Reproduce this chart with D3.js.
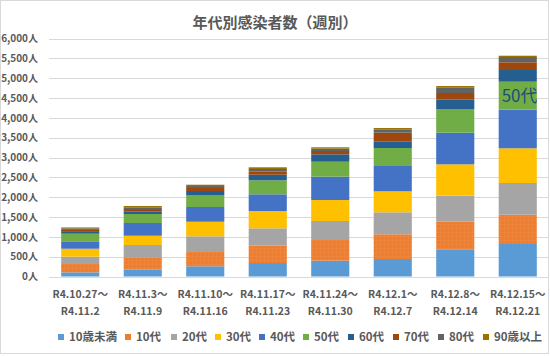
<!DOCTYPE html>
<html><head><meta charset="utf-8">
<script src="https://cdn.jsdelivr.net/npm/d3@7"></script>
<style>
html,body{margin:0;padding:0;background:#fff;}
svg{display:block;}
text{font-family:"Noto Sans CJK JP","Noto Sans",sans-serif;}
</style></head>
<body>
<svg id="c" width="550" height="356"></svg>
<script>
const categories = ["R4.10.27～|R4.11.2","R4.11.3～|R4.11.9","R4.11.10～|R4.11.16","R4.11.17～|R4.11.23","R4.11.24～|R4.11.30","R4.12.1～|R4.12.7","R4.12.8～|R4.12.14","R4.12.15～|R4.12.21"];
const seriesNames = ["10歳未満","10代","20代","30代","40代","50代","60代","70代","80代","90歳以上"];
const age0   = [105, 171, 257, 340, 398, 441, 686, 819];
const age10  = [210, 313, 361, 436, 522, 623, 695, 739];
const age20  = [185, 310, 395, 439, 479, 554, 656, 799];
const age30  = [200, 234, 368, 436, 529, 530, 791, 875];
const age40  = [187, 321, 371, 421, 588, 638, 797, 973];
const age50  = [192, 226, 302, 353, 378, 453, 597, 706];
const age60  = [ 45,  68, 101, 141, 186, 169, 235, 295];
const age70  = [ 50,  58,  76,  76,  84, 217, 169, 194];
const age80  = [ 38,  43,  50,  68,  58,  86, 143, 133];
const age90  = [ 25,  33,  33,  43,  35,  32,  33,  33];
const yTicks = [0,500,1000,1500,2000,2500,3000,3500,4000,4500,5000,5500,6000];
const colors = ["#5B9BD5","#ED7D31","#A5A5A5","#FFC000","#4472C4","#70AD47","#255E91","#9E480E","#636363","#997300"];

const seriesValues = [age0,age10,age20,age30,age40,age50,age60,age70,age80,age90];
const table = categories.map((c,i)=>{const o={cat:c}; seriesNames.forEach((s,j)=>o[s]=seriesValues[j][i]); return o;});

const svg = d3.select("#c");
const textColor = "#595959";

// outer border
svg.append("rect").attr("x",0.5).attr("y",0.5).attr("width",548).attr("height",353)
  .attr("fill","#fff").attr("stroke","#d9d9d9");

const defs = svg.append("defs");
const pat = defs.append("pattern").attr("id","p10").attr("patternUnits","userSpaceOnUse")
  .attr("width",4).attr("height",4);
pat.append("rect").attr("width",4).attr("height",4).attr("fill",colors[1]);
pat.append("path").attr("d","M0,0.5H4M0.5,0V4").attr("stroke","#EF853B").attr("stroke-width",1);

const x = d3.scaleBand().domain(categories).range([49,549]).paddingInner(0.39).paddingOuter(0.195);
const y = d3.scaleLinear().domain([0,6000]).range([276.5,38.5]);

// gridlines
svg.append("g").selectAll("line").data(yTicks).join("line")
  .attr("x1",49).attr("x2",548).attr("y1",d=>Math.round(y(d))+0.5).attr("y2",d=>Math.round(y(d))+0.5)
  .attr("stroke","#d9d9d9").attr("stroke-width",1);

// y axis labels
const yAxis = d3.axisLeft(y).tickValues(yTicks).tickSize(0).tickPadding(0)
  .tickFormat(d=>d3.format(",")(d)+"人");
const ga = svg.append("g").attr("transform","translate(38,0)").call(yAxis);
ga.select(".domain").remove();
ga.selectAll("text").attr("fill",textColor).attr("font-size","10px").attr("font-weight","bold")
  .style("font-family",'"Noto Sans CJK JP",sans-serif');

// stacked bars
const stack = d3.stack().keys(seriesNames)(table);
const gBars = svg.append("g");
stack.forEach((layer,j)=>{
  gBars.append("g").selectAll("rect").data(layer).join("rect")
    .attr("x",d=>x(d.data.cat))
    .attr("width",x.bandwidth())
    .attr("y",d=>y(d[1]))
    .attr("height",d=>y(d[0])-y(d[1]))
    .attr("fill",j===1?"url(#p10)":colors[j]);
});

// data label on last bar 50代 segment
const lastLayer = stack[5][categories.length-1];
defs.append("clipPath").attr("id","clipLast").append("rect")
  .attr("x",x(categories[categories.length-1])).attr("y",0)
  .attr("width",x.bandwidth()).attr("height",356);
svg.append("text").attr("clip-path","url(#clipLast)")
  .attr("x",x(categories[categories.length-1])+3)
  .attr("y",(y(lastLayer[0])+y(lastLayer[1]))/2)
  .attr("dy","0.36em").attr("font-size","17px").attr("fill","#1F4E79")
  .text(seriesNames[5]);

// x labels
const gx = svg.append("g");
categories.forEach(c=>{
  const parts = c.split("|");
  const t = gx.append("text").attr("text-anchor","middle").attr("fill",textColor)
    .attr("font-size","10.5px").attr("font-weight","bold");
  t.append("tspan").attr("x",x(c)+x.bandwidth()/2).attr("y",298).text(parts[0]);
  t.append("tspan").attr("x",x(c)+x.bandwidth()/2).attr("y",315).text(parts[1]);
});

// title
svg.append("text").attr("x",275).attr("y",28).attr("text-anchor","middle")
  .attr("font-size","15px").attr("font-weight","bold").attr("fill",textColor)
  .text("年代別感染者数（週別）");

// legend
const legendX = [58,125,171,215,259,303,348,393,438,483];
const gl = svg.append("g");
seriesNames.forEach((s,j)=>{
  gl.append("rect").attr("x",legendX[j]).attr("y",334).attr("width",6).attr("height",6).attr("fill",colors[j]);
  gl.append("text").attr("x",legendX[j]+11).attr("y",341).attr("fill",textColor)
    .attr("font-size","11.5px").attr("font-weight","bold").text(s);
});
</script>
</body></html>
